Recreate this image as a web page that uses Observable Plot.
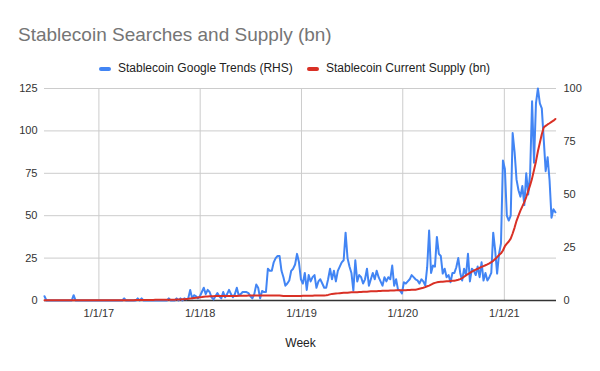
<!DOCTYPE html>
<html>
<head>
<meta charset="utf-8">
<script src="https://cdn.jsdelivr.net/npm/d3@7"></script>
<script src="https://cdn.jsdelivr.net/npm/@observablehq/plot@0.6"></script>
<style>
  html, body { margin: 0; padding: 0; background: #fff; }
  #wrap { width: 600px; height: 371px; position: relative; font-family: "Liberation Sans", Arial, sans-serif; }
  #head { position: relative; width: 600px; height: 70px; }
  #title { position: absolute; left: 18px; top: 24px; font-size: 19px; line-height: 22px; color: #757575; white-space: nowrap; }
  .sw { position: absolute; top: 66.5px; width: 12px; height: 4px; border-radius: 2px; }
  .lt { position: absolute; top: 61px; font-size: 12px; line-height: 14px; color: #222; white-space: nowrap; }
  #chart svg { display: block; }
</style>
</head>
<body>
<div id="wrap">
  <div id="head">
    <div id="title">Stablecoin Searches and Supply (bn)</div>
    <div class="sw" id="sw1" style="left:99px;"></div>
    <div class="lt" id="lt1" style="left:118px;"></div>
    <div class="sw" id="sw2" style="left:307px;"></div>
    <div class="lt" id="lt2" style="left:326px;"></div>
  </div>
  <div id="chart"></div>
</div>
<script>
// ---- data ----
const seriesNames = ["Stablecoin Google Trends (RHS)", "Stablecoin Current Supply (bn)"];
const seriesColors = ["#4285f4", "#d93025"];
const firstWeek = "2016-06-19";
const lastWeekDomainEnd = "2021-07-08";

// Google Trends index (right-hand scale, 0-100), weekly
const trendValues = [
  2,0,0,0,0,0,0,0,0,0,
  0,0,0,0,0,2.5,0,0,0,0,
  0,0,0,0,0,0,0,0,0,0,
  0,0,0,0,0,0,0,0,0,0,
  0,1,0,0,0,0,0,0,1,0,
  1,0,0,0,0,0,0,0,0,0,
  0,0,0,0,1,0,0,0,1,0,
  1,0,1,0.5,1,5,1,2.5,2,1,
  2,4,6,3,5,4,1.5,0.5,2,3.5,
  2,1,4,1.5,3,5,3,1.5,3,6,
  2.4,3,4,4,4,3.5,2,1,3,7.5,
  6,1,4.5,4,4,15,14,14,18,20,
  21,21,14,11,7,8,9.4,14,15,17,
  22,18,10,8,13,5,12,9,11,12,
  6,9,10,8,6,6,10,15,10,14,
  9,14,16,18,19,32,20,16,13,4.7,
  19,9,12,11,8,10,15,7,10,13,
  10,14,11,9,7,11,9,11,10,16.5,
  7,10,5,4.7,3.3,8.6,8,9,10,12,
  11,10,9.5,8,10,9,7,15.7,33,13,
  16.5,16,30,22,21,12.7,15,11,12,8.6,
  13,13,15.7,20,13,9.4,15,12,22,9,
  15,14,12,16,11,18,9.4,13,9.4,11,
  13,32,23.6,12.7,22,27,66,62,40,37.7,
  40,79,70,57,52,49,54,45,60,50,
  60,94,65,93,100,93,90.6,76,61,67.6,
  56.6,39,43,41.6
];

// Stablecoin supply in $bn (left-hand scale), weekly
const supplyValues = [
  0.1,0.1,0.1,0.1,0.1,0.1,0.1,0.1,0.1,0.1,
  0.1,0.1,0.1,0.1,0.1,0.1,0.1,0.1,0.1,0.1,
  0.1,0.1,0.1,0.1,0.1,0.1,0.1,0.1,0.1,0.1,
  0.1,0.1,0.1,0.1,0.1,0.2,0.2,0.2,0.2,0.2,
  0.2,0.2,0.2,0.2,0.2,0.2,0.2,0.3,0.3,0.3,
  0.3,0.3,0.3,0.3,0.3,0.3,0.3,0.4,0.4,0.4,
  0.4,0.4,0.4,0.5,0.5,0.5,0.5,0.5,0.6,0.6,
  0.6,0.7,0.8,0.9,1.0,1.2,1.3,1.5,1.6,1.8,
  1.9,2.0,2.2,2.3,2.4,2.5,2.5,2.5,2.6,2.6,
  2.6,2.6,2.6,2.6,2.6,2.6,2.7,2.7,2.7,2.7,
  2.8,2.8,2.8,2.8,2.8,2.9,2.9,2.9,2.9,2.9,
  3.0,3.0,3.0,3.0,3.0,3.0,3.0,3.0,3.0,3.0,
  3.0,2.9,2.8,2.7,2.6,2.6,2.6,2.6,2.6,2.7,
  2.7,2.7,2.7,2.8,2.8,2.8,2.8,2.8,2.8,2.9,
  2.9,2.9,2.9,2.9,3.0,3.1,3.3,3.6,3.9,4.0,
  4.1,4.2,4.3,4.4,4.5,4.5,4.6,4.7,4.8,4.8,
  4.9,4.9,5.0,5.0,5.1,5.1,5.2,5.3,5.4,5.4,
  5.5,5.5,5.6,5.6,5.7,5.7,5.8,5.8,5.9,5.9,
  5.9,6.0,6.0,6.0,6.1,6.1,6.1,6.2,6.2,6.3,
  6.3,6.4,6.6,6.9,7.2,7.5,7.9,8.4,8.8,9.4,
  10.0,10.4,10.7,10.9,11.0,11.1,11.2,11.3,11.4,11.5,
  11.6,11.7,11.9,12.2,12.6,13.2,14.0,14.8,15.6,16.3,
  17.0,17.6,18.2,18.7,19.3,19.8,20.3,20.8,21.3,21.9,
  22.6,23.4,24.4,25.6,26.8,27.8,29.5,32.0,33.5,34.8,
  36.5,39.5,43.0,47.0,50.0,53.0,55.5,58.0,61.0,64.5,
  68.0,72.0,77.0,82.0,88.0,93.0,98.0,102.0,103.0,103.8,
  104.5,105.3,106.0,107.0
];

const xTickDates = ["2017-01-01", "2018-01-01", "2019-01-01", "2020-01-01", "2021-01-01"];
const leftTicks = [0, 25, 50, 75, 100, 125];
const rightTicks = [0, 25, 50, 75, 100];
const xAxisTitle = "Week";

// ---- build ----
const leftMax = 125, rightMax = 100;
const k = leftMax / rightMax;
const start = new Date(firstWeek + "T00:00:00Z");
const rows = trendValues.map((v, i) => ({
  week: new Date(start.getTime() + i * 7 * 864e5),
  trend: v,
  supply: supplyValues[i]
}));
const xTicks = xTickDates.map(s => new Date(s + "T00:00:00Z"));
const fmt = d => `${d.getUTCMonth() + 1}/${d.getUTCDate()}/${String(d.getUTCFullYear()).slice(2)}`;

document.getElementById("sw1").style.background = seriesColors[0];
document.getElementById("sw2").style.background = seriesColors[1];
document.getElementById("lt1").textContent = seriesNames[0];
document.getElementById("lt2").textContent = seriesNames[1];

const chart = Plot.plot({
  width: 600,
  height: 301,
  marginTop: 18,
  marginBottom: 71,
  marginLeft: 44,
  marginRight: 44,
  style: { fontFamily: '"Liberation Sans", Arial, sans-serif', fontSize: "11px", color: "#333", background: "#fff" },
  x: { type: "utc", domain: [start, new Date(lastWeekDomainEnd + "T00:00:00Z")] },
  y: { domain: [0, leftMax] },
  marks: [
    Plot.gridY(leftTicks, { stroke: "#cccccc", strokeOpacity: 1 }),
    Plot.gridX(xTicks, { stroke: "#cccccc", strokeOpacity: 1 }),
    Plot.axisY(leftTicks, { anchor: "left", tickSize: 0, tickPadding: 7, label: null, fill: "#333" }),
    Plot.axisY(rightTicks.map(v => v * k), { anchor: "right", tickSize: 0, tickPadding: 7, label: null, tickFormat: v => Math.round(v / k), fill: "#333" }),
    Plot.axisX(xTicks, { anchor: "bottom", tickSize: 0, tickPadding: 9, label: null, tickFormat: fmt, fill: "#333" }),
    Plot.ruleY([0], { stroke: "#333", strokeWidth: 1.3 }),
    Plot.lineY(rows, { x: "week", y: d => d.trend * k, stroke: seriesColors[0], strokeWidth: 2 }),
    Plot.lineY(rows, { x: "week", y: "supply", stroke: seriesColors[1], strokeWidth: 2 }),
    Plot.text([xAxisTitle], { frameAnchor: "bottom", dy: 46, text: d => d, fontSize: 12, fill: "#222" })
  ]
});
document.getElementById("chart").appendChild(chart);
</script>
</body>
</html>
